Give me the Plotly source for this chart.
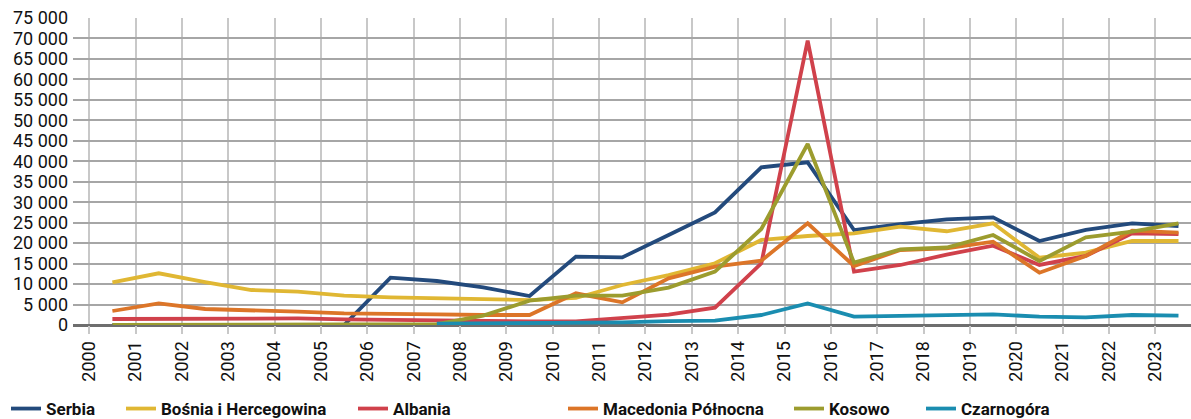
import plotly.graph_objects as go

YEARS = list(range(2000, 2024))

SERBIA = [0, 0, 0, 0, 0, 0, 11560, 10750, 9200, 7080, 16700, 16530,
          21990, 27520, 38520, 39740, 23200, 24670, 25820, 26310, 20520, 23210, 24840, 24190]
BOSNIA = [10430, 12630, 10500, 8550, 8140, 7160, 6760, 6520, 6270, 6100, 6600, 9770,
          12200, 15070, 20770, 21740, 22400, 24020, 22900, 24840, 16450, 17670, 20520, 20520]
ALBANIA = [1470, 1500, 1630, 1710, 1600, 1390, 1220, 1060, 1000, 900, 900, 1630,
           2520, 4230, 15070, 69450, 13030, 14660, 17200, 19380, 14660, 16860, 22400, 22230]
MACEDONIA = [3420, 5290, 3910, 3660, 3250, 2850, 2610, 2600, 2440, 2440, 7740, 5540,
             11400, 14250, 15720, 24840, 14410, 18320, 18730, 20360, 12780, 16860, 23050, 22560]
KOSOWO = [0, 0, 0, 0, 0, 0, 0, 200, 2280, 5940, 7170, 7170,
          9120, 13030, 23450, 44220, 15230, 18480, 18930, 21990, 15630, 21420, 22800, 24840]
CZARNOGORA = [None, None, None, None, None, None, None, 300, 350, 350, 400, 650,
              950, 1060, 2440, 5290, 2040, 2200, 2440, 2600, 2040, 1870, 2440, 2280]

SERIES = [
    ("Serbia", SERBIA, "#234A7C"),
    ("Bośnia i Hercegowina", BOSNIA, "#E0B733"),
    ("Albania", ALBANIA, "#D0414B"),
    ("Macedonia Północna", MACEDONIA, "#DC7528"),
    ("Kosowo", KOSOWO, "#9C9C2E"),
    ("Czarnogóra", CZARNOGORA, "#1A8DB0"),
]

# left edge of each legend swatch, px in the 1191 wide page
LEGEND_X = [14, 129, 361, 571, 797, 929]

Y_TICKS = list(range(0, 75001, 5000))
Y_TEXT = [f"{v:,}".replace(",", " ") for v in Y_TICKS]

W, H = 1191, 419

fig = go.Figure()
legends = {}
for i, (name, vals, colour) in enumerate(SERIES):
    key = "legend" if i == 0 else f"legend{i + 1}"
    fig.add_trace(go.Scatter(
        x=[y + 0.5 for y in YEARS], y=vals, name=name, mode="lines",
        line=dict(color=colour, width=3.8), legend=key,
        hovertemplate=f"<b>{name}</b><br>%{{y:,.0f}}<extra></extra>",
    ))
    legends[key] = dict(
        orientation="h", xref="container", yref="container",
        x=(LEGEND_X[i] - 8) / W, xanchor="left", y=(H - 409) / H, yanchor="middle",
        font=dict(family="Roboto", size=17, color="#111111", weight="bold"),
        bgcolor="rgba(0,0,0,0)", borderwidth=0, itemwidth=30,
    )

fig.update_xaxes(
    range=[1999.65, 2023.77], tickmode="array", tickvals=YEARS,
    ticktext=[str(y) for y in YEARS], tickangle=-90,
    tickfont=dict(family="Roboto", size=18, color="#111111"),
    showgrid=True, gridcolor="#C8C8C8", gridwidth=1.5,
    ticks="outside", ticklen=8, tickcolor="#C8C8C8", tickwidth=1.5,
    zeroline=False, showline=False,
)
fig.update_yaxes(
    range=[0, 75000], tickmode="array", tickvals=Y_TICKS, ticktext=Y_TEXT,
    tickfont=dict(family="Roboto", size=18, color="#111111"),
    showgrid=True, gridcolor="#A6A6A6", gridwidth=1.5,
    zeroline=True, zerolinecolor="#6E6E6E", zerolinewidth=2.5,
    showline=False, ticks="", ticklabelstandoff=4,
)
fig.update_layout(
    width=W, height=H,
    margin=dict(l=73, r=0, t=18, b=94),
    paper_bgcolor="white", plot_bgcolor="white",
    showlegend=True, hovermode="x unified",
    **legends,
)

fig.write_html("out.html", config={"displayModeBar": False},
               post_script="document.body.style.margin='0px';")
